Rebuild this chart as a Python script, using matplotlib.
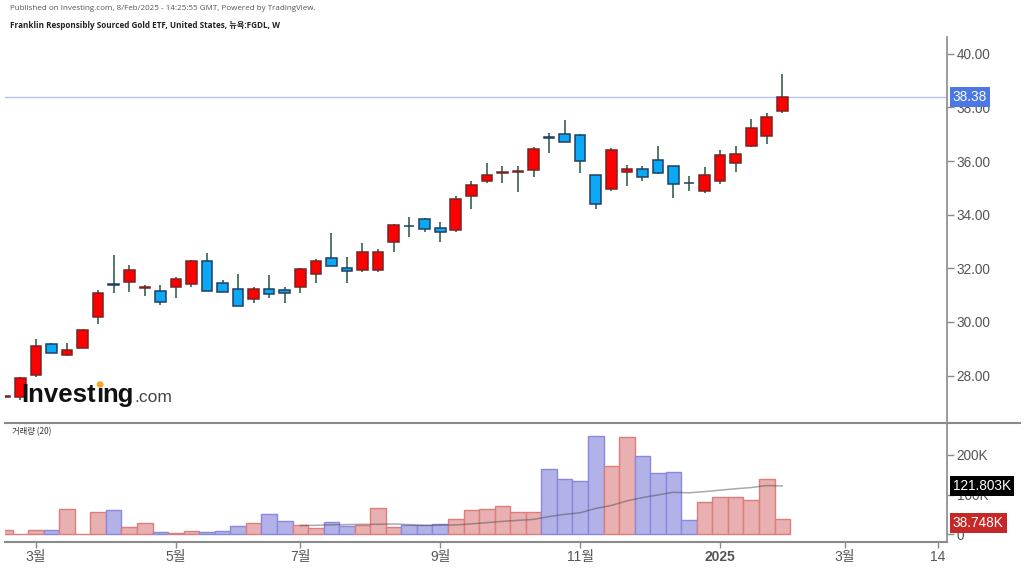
import matplotlib
matplotlib.use('Agg')
import matplotlib.pyplot as plt
import numpy as np
import pandas as pd
from matplotlib.lines import Line2D
from matplotlib.patches import Ellipse

# ---------------- data ----------------
bar_idx = list(range(-2, 49))  # weekly bars, 0 = week of 4 Mar 2024
opens = [27.20, 27.20, 28.02, 29.18, 28.76, 29.04, 30.20, 31.40, 31.48, 31.27,
         31.17, 31.29, 31.41, 32.29, 31.47, 31.23, 30.85, 31.23, 31.18, 31.29,
         31.78, 32.38, 32.00, 31.94, 31.94, 32.97, 33.59, 33.83, 33.50, 33.43,
         34.71, 35.27, 35.54, 35.59, 35.65, 36.90, 37.01, 36.97, 35.47, 34.95,
         35.61, 35.72, 36.04, 35.80, 35.19, 34.90, 35.27, 35.92, 36.57, 36.94,
         37.87]
highs = [27.24, 27.95, 29.35, 29.20, 29.20, 29.72, 31.19, 32.50, 32.13, 31.38,
         31.38, 31.69, 32.32, 32.59, 31.57, 31.79, 31.29, 31.75, 31.29, 32.00,
         32.34, 33.31, 32.44, 32.94, 32.71, 33.65, 33.93, 33.89, 33.74, 34.70,
         35.24, 35.92, 35.82, 35.82, 36.54, 37.04, 37.54, 37.00, 35.50, 36.48,
         35.86, 35.82, 36.57, 35.82, 35.45, 35.77, 36.42, 36.57, 37.57, 37.81,
         39.25]
lows = [27.18, 27.10, 27.95, 28.83, 28.74, 29.02, 29.91, 31.07, 31.11, 30.97,
        30.63, 30.88, 31.29, 31.15, 31.10, 30.58, 30.72, 30.91, 30.70, 31.07,
        31.47, 32.07, 31.47, 31.88, 31.88, 32.62, 33.18, 33.37, 33.00, 33.37,
        34.20, 35.18, 35.18, 34.86, 35.40, 36.32, 36.70, 35.55, 34.20, 34.90,
        35.07, 35.24, 35.52, 34.62, 34.90, 34.80, 35.14, 35.59, 36.52, 36.63,
        37.79]
closes = [27.22, 27.90, 29.12, 28.86, 28.96, 29.70, 31.09, 31.37, 31.92, 31.30,
          30.76, 31.59, 32.29, 31.17, 31.12, 30.60, 31.23, 31.03, 31.07, 31.97,
          32.29, 32.09, 31.90, 32.61, 32.61, 33.63, 33.57, 33.48, 33.35, 34.60,
          35.11, 35.49, 35.58, 35.62, 36.46, 36.88, 36.73, 36.02, 34.40, 36.42,
          35.72, 35.42, 35.55, 35.15, 35.17, 35.49, 36.22, 36.27, 37.25, 37.66,
          38.38]
volumes_k = [10.9, 1.0, 10.9, 10.9, 63.8, 1.5, 55.0, 61.0, 17.6, 27.7,
             5.0, 2.5, 8.4, 5.0, 8.4, 21.0, 27.7, 52.0, 33.5, 23.4,
             15.0, 30.0, 21.0, 23.4, 65.5, 17.6, 23.4, 23.4, 26.0, 37.8,
             62.0, 64.5, 71.3, 56.0, 56.0, 165.0, 139.4, 134.4, 249.0, 172.5,
             245.0, 198.0, 155.62, 157.8, 36.0, 80.7, 94.8, 94.8, 86.5, 140.0,
             38.748]

x_tick_pos = [0, 9, 17, 26, 35, 44, 52, 58]
x_tick_labels = ['3월', '5월', '7월', '9월', '11월', '2025', '3월', '14']
price_ticks = [28, 30, 32, 34, 36, 38, 40]
vol_ticks = [0, 100, 200]
vol_tick_labels = ['0', '100K', '200K']
last_price = 38.38
vol_ma_period = 20

header1 = "Published on Investing.com, 8/Feb/2025 - 14:25:55 GMT, Powered by TradingView."
header2 = "Franklin Responsibly Sourced Gold ETF, United States, 뉴욕:FGDL, W"
vol_title = "거래량 (20)"

# ---------------- styling ----------------
W, H, DPI = 1024, 568, 100
UP_FILL, UP_EDGE = '#ff0000', '#7a2323'
DN_FILL, DN_EDGE = '#0aa8f5', '#1f3d66'
WICK = '#35634a'
VUP_FILL, VUP_EDGE = '#e8b0b0', '#e07c7c'
VDN_FILL, VDN_EDGE = '#b2b2e8', '#8888e0'
AXC = '#8a8a8a'
TXT = '#555555'
FAM = ['Liberation Sans', 'Noto Sans CJK KR']
plt.rcParams['font.family'] = FAM
LBL = 9.8

fig = plt.figure(figsize=(W / DPI, H / DPI), dpi=DPI)
fig.patch.set_facecolor('white')

def fy(py):
    return 1 - py / H

L_PX, R_PX = 5, 947
TOP_PX, SEP_PX, BOT_PX = 37, 423, 542
ax = fig.add_axes([L_PX / W, fy(SEP_PX), (R_PX - L_PX) / W, (SEP_PX - TOP_PX) / H])
axv = fig.add_axes([L_PX / W, fy(BOT_PX), (R_PX - L_PX) / W, (BOT_PX - SEP_PX) / H])

x = np.array(bar_idx, dtype=float)
o = np.array(opens); h = np.array(highs); l = np.array(lows); c = np.array(closes)
v = np.array(volumes_k)
up = c >= o

xlim = (-1.99, 58.59)
for a in (ax, axv):
    a.set_xlim(*xlim)
    a.set_facecolor('none')
    for s in ('left', 'top', 'bottom'):
        a.spines[s].set_visible(False)
    a.spines['right'].set_color(AXC)
    a.spines['right'].set_linewidth(1.2)

# ---------------- candles ----------------
ax.vlines(x, l, h, color=WICK, linewidth=1.2, zorder=2)
body_lo = np.minimum(o, c)
body_h = np.maximum(np.abs(c - o), 0.012)
ax.bar(x, body_h, bottom=body_lo, width=0.68,
       color=np.where(up, UP_FILL, DN_FILL),
       edgecolor=np.where(up, UP_EDGE, DN_EDGE), linewidth=1.1, zorder=3)

ax.set_ylim(26.23, 40.63)
ax.axhline(last_price, color='#b6c5f2', linewidth=1.0, zorder=1)
ax.yaxis.tick_right()
ax.set_yticks(price_ticks)
ax.set_yticklabels([f"{t:.2f}" for t in price_ticks])
ax.tick_params(axis='y', direction='out', length=5, width=1, color=AXC,
               labelcolor=TXT, labelsize=LBL, pad=2)
ax.tick_params(axis='x', bottom=False, labelbottom=False)

BOX = dict(boxstyle='square,pad=0.22', ec='none')
ax.annotate(f"{last_price:.2f}", xy=(1.0, last_price),
            xycoords=('axes fraction', 'data'), xytext=(4.2, 0),
            textcoords='offset points', ha='left', va='center',
            fontsize=LBL, color='white', zorder=10, annotation_clip=False,
            bbox=dict(BOX, fc='#4a78e6'))

# ---------------- volume ----------------
axv.bar(x, v, width=1.0, color=np.where(up, VUP_FILL, VDN_FILL),
        edgecolor=np.where(up, VUP_EDGE, VDN_EDGE), linewidth=1.0, zorder=2)
ma = pd.Series(v).rolling(vol_ma_period).mean()
axv.plot(x, ma, color='#444444', alpha=0.45, linewidth=1.1, zorder=3)
axv.set_ylim(-19.4, 280.6)
axv.yaxis.tick_right()
axv.set_yticks(vol_ticks)
axv.set_yticklabels(vol_tick_labels)
axv.tick_params(axis='y', direction='out', length=5, width=1, color=AXC,
                labelcolor=TXT, labelsize=LBL, pad=2)
axv.spines['bottom'].set_visible(True)
axv.spines['bottom'].set_color(AXC)
axv.spines['bottom'].set_linewidth(1.5)
axv.set_xticks(x_tick_pos)
axv.set_xticklabels(x_tick_labels)
axv.tick_params(axis='x', direction='out', length=4, width=1, color=AXC,
                labelcolor=TXT, labelsize=10, pad=2)
for lab in axv.get_xticklabels():
    if lab.get_text() == '2025':
        lab.set_fontweight('bold')

last_ma = float(ma.iloc[-1])
axv.annotate(f"{last_ma:.3f}K", xy=(1.0, last_ma),
             xycoords=('axes fraction', 'data'), xytext=(4.2, 0),
             textcoords='offset points', ha='left', va='center',
             fontsize=LBL, color='white', zorder=10, annotation_clip=False,
             bbox=dict(BOX, fc='#000000'))
axv.annotate(f"{v[-1]:.3f}K", xy=(1.0, v[-1]),
             xycoords=('axes fraction', 'data'), xytext=(4.2, -3),
             textcoords='offset points', ha='left', va='center',
             fontsize=LBL, color='white', zorder=10, annotation_clip=False,
             bbox=dict(BOX, fc='#c62828'))

axv.text(7 / (R_PX - L_PX), 0.93, vol_title, transform=axv.transAxes,
         fontsize=6, color='#333333', ha='left', va='center',
         family=['Noto Sans CJK KR', 'DejaVu Sans'])

# separator line between panels
fig.add_artist(Line2D([L_PX / W, 1020 / W], [fy(SEP_PX), fy(SEP_PX)],
                      color=AXC, linewidth=1.5))

# ---------------- header ----------------
fig.text(10 / W, fy(9), header1, fontsize=5.75, color='#555555',
         ha='left', va='center', family=['Open Sans', 'Noto Sans CJK KR'])
fig.text(10 / W, fy(25), header2, fontsize=5.9, color='#222222', fontweight='bold',
         ha='left', va='center', family=['Open Sans', 'Noto Sans CJK KR'])

# ---------------- watermark logo ----------------
fig.canvas.draw()
rend = fig.canvas.get_renderer()
base_y = fy(402)
xpos = 21 / W
parts = [("Invest", 'bold', 18.5, '#111111'), ("\u0131", 'bold', 18.5, '#111111'),
         ("ng", 'bold', 18.5, '#111111'), (".com", 'normal', 12.5, '#444444')]
dot_x = None
for txt, wt, fs, col in parts:
    t = fig.text(xpos, base_y, txt, fontsize=fs, fontweight=wt, color=col,
                 ha='left', va='baseline', family='Liberation Sans', zorder=20)
    bb = t.get_window_extent(renderer=rend)
    if txt == "\u0131":
        dot_x = (bb.x0 + bb.x1) / 2 / W
    xpos = bb.x1 / W
fig.add_artist(Ellipse((dot_x + 1 / W, fy(384.5)), 5.5 / W, 5.0 / H,
                       color='#f5a623', zorder=21))

fig.savefig('out.png', dpi=DPI, facecolor='white')
